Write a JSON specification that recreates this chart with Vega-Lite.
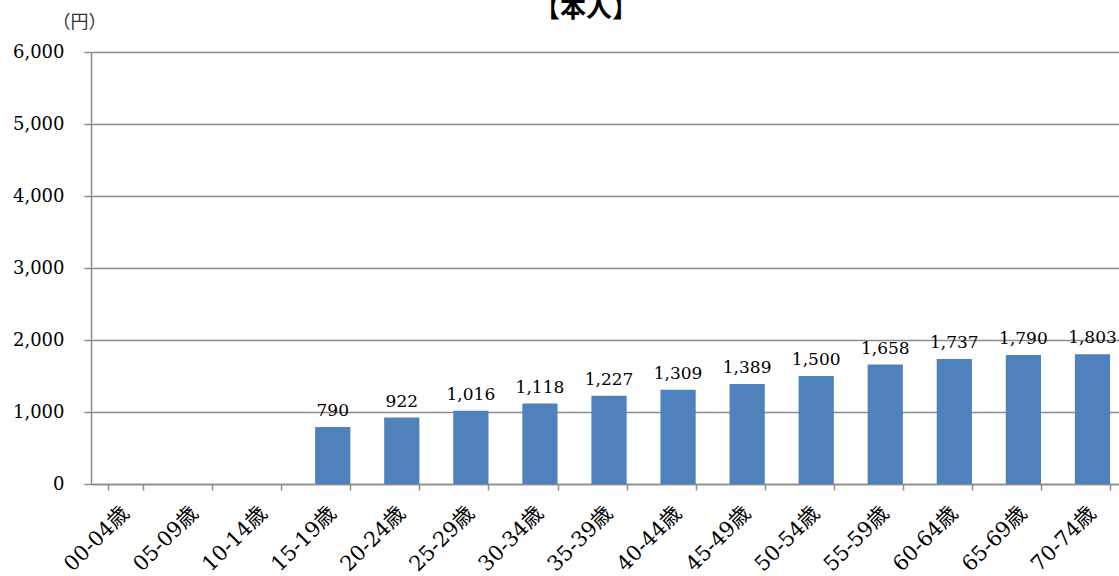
{
  "$schema": "https://vega.github.io/schema/vega-lite/v6.json",
  "autosize": {"type": "none"},
  "padding": {"left": 91, "top": 52, "right": 0, "bottom": 92},
  "width": 1028,
  "height": 432,
  "background": "white",
  "title": {
    "text": "【本人】",
    "frame": "group",
    "anchor": "middle",
    "baseline": "alphabetic",
    "offset": 0,
    "dy": 30,
    "dx": -19,
    "font": "Noto Sans CJK JP",
    "fontSize": 26,
    "fontWeight": "bold",
    "color": "#000000"
  },
  "config": {
    "view": {"stroke": null},
    "axis": {
      "labelFont": "DejaVu Serif, Noto Sans CJK JP",
      "labelColor": "#000000",
      "domainColor": "#8c8c8c",
      "tickColor": "#8c8c8c",
      "gridColor": "#8c8c8c",
      "domainWidth": 1.5,
      "tickWidth": 1.5,
      "gridWidth": 1.5
    }
  },
  "data": {
    "values": [
      {"age": "00-04歳", "value": null},
      {"age": "05-09歳", "value": null},
      {"age": "10-14歳", "value": null},
      {"age": "15-19歳", "value": 790},
      {"age": "20-24歳", "value": 922},
      {"age": "25-29歳", "value": 1016},
      {"age": "30-34歳", "value": 1118},
      {"age": "35-39歳", "value": 1227},
      {"age": "40-44歳", "value": 1309},
      {"age": "45-49歳", "value": 1389},
      {"age": "50-54歳", "value": 1500},
      {"age": "55-59歳", "value": 1658},
      {"age": "60-64歳", "value": 1737},
      {"age": "65-69歳", "value": 1790},
      {"age": "70-74歳", "value": 1803}
    ]
  },
  "encoding": {
    "x": {
      "field": "age",
      "type": "nominal",
      "sort": null,
      "scale": {
        "domain": ["00-04歳","05-09歳","10-14歳","15-19歳","20-24歳","25-29歳","30-34歳","35-39歳","40-44歳","45-49歳","50-54歳","55-59歳","60-64歳","65-69歳","70-74歳"],
        "range": [0, 1036],
        "paddingInner": 0.49,
        "paddingOuter": 0.245
      },
      "axis": {
        "title": null,
        "labelAngle": -45,
        "labelAlign": "right",
        "labelBaseline": "middle",
        "labelFontSize": 21,
        "labelPadding": 20,
        "tickBand": "extent",
        "tickSize": 6,
        "grid": false
      }
    },
    "y": {
      "field": "value",
      "type": "quantitative",
      "scale": {"domain": [0, 6000]},
      "axis": {
        "values": [0, 1000, 2000, 3000, 4000, 5000, 6000],
        "format": ",.0f",
        "labelFontSize": 18,
        "labelPadding": 20,
        "tickSize": 7,
        "grid": true,
        "title": "（円）",
        "titleAngle": 0,
        "titleX": -12,
        "titleY": -30,
        "titleAlign": "center",
        "titleBaseline": "middle",
        "titleFont": "Noto Sans CJK JP",
        "titleFontSize": 18,
        "titleFontWeight": "normal",
        "titleColor": "#333333"
      }
    }
  },
  "layer": [
    {"mark": {"type": "bar", "color": "#4F81BD"}},
    {
      "mark": {
        "type": "text",
        "baseline": "alphabetic",
        "dy": -11,
        "font": "DejaVu Serif",
        "fontSize": 17,
        "color": "#000000"
      },
      "encoding": {"text": {"field": "value", "type": "quantitative", "format": ",.0f"}}
    }
  ]
}
